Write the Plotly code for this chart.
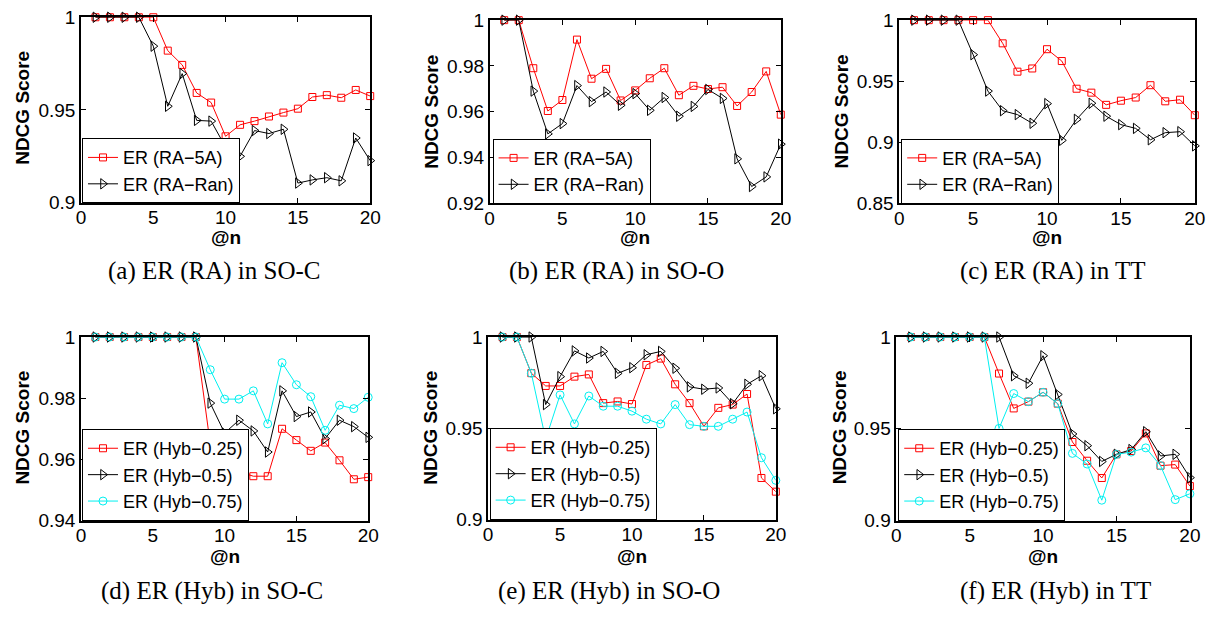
import plotly.graph_objects as go

W, H = 1230, 619

n_vals = list(range(1, 21))
x_ticks = [0, 5, 10, 15, 20]

# (a) ER (RA) in SO-C
a_5A = [1, 1, 1, 1, 1, 0.982, 0.9743, 0.9592, 0.954, 0.9358, 0.942, 0.944, 0.9465, 0.9486, 0.9507, 0.957, 0.958, 0.9566, 0.9608, 0.9575]
a_Ran = [1, 1, 1, 1, 0.9844, 0.952, 0.9696, 0.9444, 0.944, 0.930, 0.925, 0.9389, 0.9373, 0.9396, 0.9106, 0.9123, 0.9135, 0.9118, 0.9349, 0.9227]
# (b) ER (RA) in SO-O
b_5A = [1, 1, 0.979, 0.9603, 0.9651, 0.9915, 0.9744, 0.9787, 0.9649, 0.9693, 0.9746, 0.979, 0.9672, 0.9713, 0.9699, 0.9707, 0.9625, 0.9686, 0.9776, 0.9587]
b_Ran = [1, 1, 0.969, 0.9503, 0.9548, 0.9714, 0.9644, 0.9686, 0.9628, 0.9679, 0.9606, 0.9662, 0.958, 0.9623, 0.9697, 0.9658, 0.9394, 0.9273, 0.9315, 0.9458]
# (c) ER (RA) in TT
c_5A = [1, 1, 1, 1, 1, 1, 0.981, 0.9578, 0.9604, 0.9762, 0.9665, 0.9438, 0.9406, 0.9306, 0.934, 0.9366, 0.9467, 0.9335, 0.9348, 0.9221]
c_Ran = [1, 1, 1, 1, 0.9717, 0.9419, 0.9258, 0.9226, 0.9155, 0.9316, 0.9015, 0.9187, 0.9319, 0.9213, 0.9144, 0.9113, 0.902, 0.9078, 0.9086, 0.897]
# (d) ER (Hyb) in SO-C
d_25 = [1, 1, 1, 1, 1, 1, 1, 1, 0.965, 0.958, 0.956, 0.9545, 0.9545, 0.970, 0.9663, 0.9628, 0.9655, 0.9597, 0.9535, 0.9542]
d_50 = [1, 1, 1, 1, 1, 1, 1, 1, 0.9784, 0.9686, 0.9728, 0.9693, 0.9624, 0.9824, 0.974, 0.9755, 0.9668, 0.9728, 0.9707, 0.9672]
d_75 = [1, 1, 1, 1, 1, 1, 1, 1, 0.9893, 0.9797, 0.9797, 0.9824, 0.9716, 0.9916, 0.9844, 0.9805, 0.9695, 0.9777, 0.9766, 0.9803]
# (e) ER (Hyb) in SO-O
e_25 = [1, 1, 0.9802, 0.9732, 0.9732, 0.9783, 0.9795, 0.9638, 0.9647, 0.9633, 0.9847, 0.9882, 0.9741, 0.9638, 0.9511, 0.9612, 0.963, 0.9688, 0.9228, 0.9153]
e_50 = [1, 1, 1, 0.963, 0.9783, 0.9924, 0.9885, 0.9921, 0.9801, 0.9832, 0.9903, 0.9921, 0.9829, 0.9727, 0.9714, 0.9721, 0.9635, 0.9741, 0.9788, 0.9607]
e_75 = [1, 1, 0.9802, 0.944, 0.9683, 0.9524, 0.9677, 0.9621, 0.9621, 0.9594, 0.955, 0.9524, 0.963, 0.952, 0.9511, 0.9511, 0.955, 0.9589, 0.9339, 0.9215]
# (f) ER (Hyb) in TT
f_25 = [1, 1, 1, 1, 1, 1, 0.9801, 0.9611, 0.9648, 0.9699, 0.9637, 0.9428, 0.9326, 0.9232, 0.9361, 0.9379, 0.9475, 0.9299, 0.9305, 0.9188]
f_50 = [1, 1, 1, 1, 1, 1, 1, 0.9789, 0.9748, 0.9898, 0.9687, 0.9472, 0.9408, 0.9322, 0.9361, 0.9387, 0.9484, 0.9352, 0.9361, 0.9234]
f_75 = [1, 1, 1, 1, 1, 1, 0.9502, 0.9692, 0.9648, 0.9699, 0.9637, 0.9366, 0.9308, 0.9111, 0.9361, 0.9373, 0.9396, 0.9299, 0.9114, 0.9146]

captions = ["(a) ER (RA) in SO-C", "(b) ER (RA) in SO-O", "(c) ER (RA) in TT",
            "(d) ER (Hyb) in SO-C", "(e) ER (Hyb) in SO-O", "(f) ER (Hyb) in TT"]
y_ticks = [[0.9, 0.95, 1], [0.92, 0.94, 0.96, 0.98, 1], [0.85, 0.9, 0.95, 1],
           [0.94, 0.96, 0.98, 1], [0.9, 0.95, 1], [0.9, 0.95, 1]]
y_tick_text = [["0.9", "0.95", "1"], ["0.92", "0.94", "0.96", "0.98", "1"], ["0.85", "0.9", "0.95", "1"],
               ["0.94", "0.96", "0.98", "1"], ["0.9", "0.95", "1"], ["0.9", "0.95", "1"]]
y_ranges = [[0.9, 1], [0.92, 1], [0.85, 1], [0.94, 1], [0.9, 1], [0.9, 1]]

ra_names = ["ER (RA\u22125A)", "ER (RA\u2212Ran)"]
hyb_names = ["ER (Hyb\u22120.25)", "ER (Hyb\u22120.5)", "ER (Hyb\u22120.75)"]

panel_series = [
    [a_5A, a_Ran], [b_5A, b_Ran], [c_5A, c_Ran],
    [d_25, d_50, d_75], [e_25, e_50, e_75], [f_25, f_50, f_75],
]

# pixel boxes of plot areas: left, right, top, bottom
boxes = [
    (77, 370, 7.5, 199.5), (491, 786, 10.5, 200), (906, 1205.5, 10.5, 200),
    (77, 368, 338.5, 528.5), (489.5, 781, 338.5, 527.5), (903, 1200.5, 338.5, 528.5),
]
legend_x = [78, 494, 908, 78, 491, 905]
ylab_pos = [(17.5, 101), (432, 105), (847, 105), (17.5, 432), (431, 432), (845, 432)]
cap_x = [212, 620, 1062, 210, 612, 1064]
cap_y = [270, 270, 270, 601, 601, 601]
xlab_y = [236, 236, 236, 566, 566, 566]

styles = [
    dict(color="#ff0000", symbol="square-open", size=7),
    dict(color="#000000", symbol="triangle-right-open", size=9),
    dict(color="#00f0f0", symbol="circle-open", size=8),
]

fig = go.Figure()
AX = "Liberation Sans, Arial, sans-serif"
layout = dict(width=W, height=H, margin=dict(l=0, r=0, t=0, b=0),
              paper_bgcolor="white", plot_bgcolor="white", showlegend=True,
              font=dict(family=AX, size=19, color="black"))
annotations = []

for i in range(6):
    k = "" if i == 0 else str(i + 1)
    names = ra_names if i < 3 else hyb_names
    lg = "legend" + k
    for j, ys in enumerate(panel_series[i]):
        st = styles[j]
        fig.add_trace(go.Scatter(
            x=n_vals, y=ys, mode="lines+markers", name=names[j],
            line=dict(color=st["color"], width=1),
            marker=dict(symbol=st["symbol"], size=st["size"], color=st["color"],
                        line=dict(width=1, color=st["color"])),
            xaxis="x" + k, yaxis="y" + k, legend=lg, cliponaxis=False))
    l, r, t, b = boxes[i]
    layout["xaxis" + k] = dict(
        domain=[l / W, r / W], range=[0, 20], anchor="y" + k,
        tickvals=x_ticks, ticks="inside", ticklen=5, tickwidth=1, tickcolor="black",
        showline=True, linecolor="black", linewidth=1.5, mirror="ticks",
        showgrid=False, zeroline=False, tickfont=dict(size=19, family=AX),
        ticklabelstandoff=-3)
    layout["yaxis" + k] = dict(
        domain=[1 - b / H, 1 - t / H], range=y_ranges[i], anchor="x" + k,
        tickvals=y_ticks[i], ticktext=y_tick_text[i], ticks="inside", ticklen=5,
        tickwidth=1, tickcolor="black",
        showline=True, linecolor="black", linewidth=1.5, mirror="ticks",
        showgrid=False, zeroline=False, tickfont=dict(size=19, family=AX))
    layout[lg] = dict(x=legend_x[i] / W, y=1 - (b + 0.5) / H, xanchor="left", yanchor="bottom",
                      bgcolor="white", bordercolor="black", borderwidth=1,
                      font=dict(size=18, family=AX), tracegroupgap=0,
                      itemwidth=30)
    annotations.append(dict(x=ylab_pos[i][0] / W, y=1 - ylab_pos[i][1] / H, xref="paper", yref="paper",
                            text="<b>NDCG Score</b>", textangle=-90, showarrow=False,
                            font=dict(size=19, family=AX), xanchor="center", yanchor="middle"))
    annotations.append(dict(x=(l + r) / 2 / W, y=1 - xlab_y[i] / H, xref="paper", yref="paper",
                            text="<b>@n</b>", showarrow=False,
                            font=dict(size=19, family=AX), xanchor="center", yanchor="middle"))
    annotations.append(dict(x=cap_x[i] / W, y=1 - cap_y[i] / H, xref="paper", yref="paper",
                            text=captions[i], showarrow=False,
                            font=dict(size=25, family="Liberation Serif, Times New Roman, serif"),
                            xanchor="center", yanchor="middle"))

layout["annotations"] = annotations
fig.update_layout(**layout)
fig.write_html("out.html")
